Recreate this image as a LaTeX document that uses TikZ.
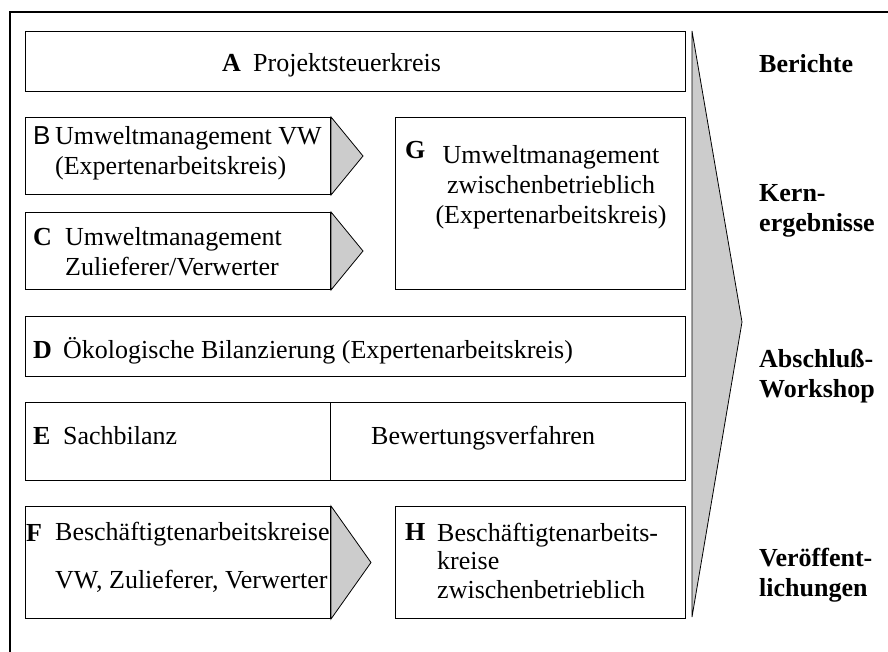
\documentclass[tikz,border=0pt]{standalone}
\usepackage{fontspec}
\setmainfont{Liberation Serif}
\newfontfamily\sansfnt{Liberation Sans}
\usepackage{tikz}

\begin{document}
\begin{tikzpicture}[x=1pt,y=-1pt]
\tikzstyle{every node}+=[inner sep=0pt,font=\fontsize{26}{30}\selectfont]
\tikzstyle{box}=[draw=black,line width=1pt,rectangle,anchor=north west]
\tikzstyle{txt}=[anchor=base west,align=left]
\tikzstyle{side}=[anchor=base west,align=left,font=\bfseries\fontsize{26}{30}\selectfont]
\tikzstyle{wedge}=[draw=black,line width=0.8pt,fill=gray!40]
\useasboundingbox (0,0) rectangle (888,652);
\draw [black,line width=2.2pt] (10,652) -- (10,12) -- (888,12);
\node (A) [box,minimum width=660pt,minimum height=60pt] at (25,31) {};
\node (B) [box,minimum width=305pt,minimum height=77pt] at (25,117) {};
\node (C) [box,minimum width=305pt,minimum height=77pt] at (25,212) {};
\node (G) [box,minimum width=290pt,minimum height=172pt] at (395,117) {};
\node (D) [box,minimum width=660pt,minimum height=60pt] at (25,316) {};
\node (E) [box,minimum width=660pt,minimum height=78pt] at (25,402) {};
\node (F) [box,minimum width=305pt,minimum height=112pt] at (25,506) {};
\node (H) [box,minimum width=290pt,minimum height=112pt] at (395,506) {};
\draw [black,line width=1pt] ([xshift=305pt]E.north west) -- ([xshift=305pt]E.south west);
\node (lA) [txt] at (222,72) {\textbf{A}};
\node (tA) [txt] at (253,72) {Projektsteuerkreis};
\node (lB) [txt] at (33,145) {\sansfnt B};
\node (tB) [txt] at (55,175) {Umweltmanagement VW\\(Expertenarbeitskreis)};
\node (lC) [txt] at (33,246) {\textbf{C}};
\node (tC) [txt] at (65,276) {Umweltmanagement\\Zulieferer/Verwerter};
\node (lG) [txt] at (405,159) {\textbf{G}};
\node (tG) [anchor=base,align=center] at (551,224) {Umweltmanagement\\zwischenbetrieblich\\(Expertenarbeitskreis)};
\node (lD) [txt] at (33,358) {\textbf{D}};
\node (tD) [txt] at (63,358) {Ökologische Bilanzierung (Expertenarbeitskreis)};
\node (lE) [txt] at (33,444) {\textbf{E}};
\node (tE) [txt] at (63,444) {Sachbilanz};
\node (tE2) [txt] at (371,444) {Bewertungsverfahren};
\node (lF) [txt] at (26,541) {\textbf{F}};
\node (tF) [txt] at (55,588) {Beschäftigtenarbeitskreise\\[18pt]VW, Zulieferer, Verwerter};
\node (lH) [txt] at (405,540) {\textbf{H}};
\node (tH) [txt,font=\fontsize{26}{28.5}\selectfont] at (437,598) {Beschäftigtenarbeits-\\kreise\\zwischenbetrieblich};
\draw [wedge] (B.north east) -- ([xshift=32pt]B.east) -- (B.south east) -- cycle;
\draw [wedge] (C.north east) -- ([xshift=32pt]C.east) -- (C.south east) -- cycle;
\draw [wedge] (F.north east) -- ([xshift=40pt]F.east) -- (F.south east) -- cycle;
\draw [wedge] (692,31) -- (742,322) -- (692,617) -- cycle;
\node (r1) [side] at (759,73) {Berichte};
\node (r2) [side] at (759,232) {Kern-\\ergebnisse};
\node (r3) [side] at (759,397) {Abschluß-\\Workshop};
\node (r4) [side] at (759,596) {Veröffent-\\lichungen};
\end{tikzpicture}
\end{document}
